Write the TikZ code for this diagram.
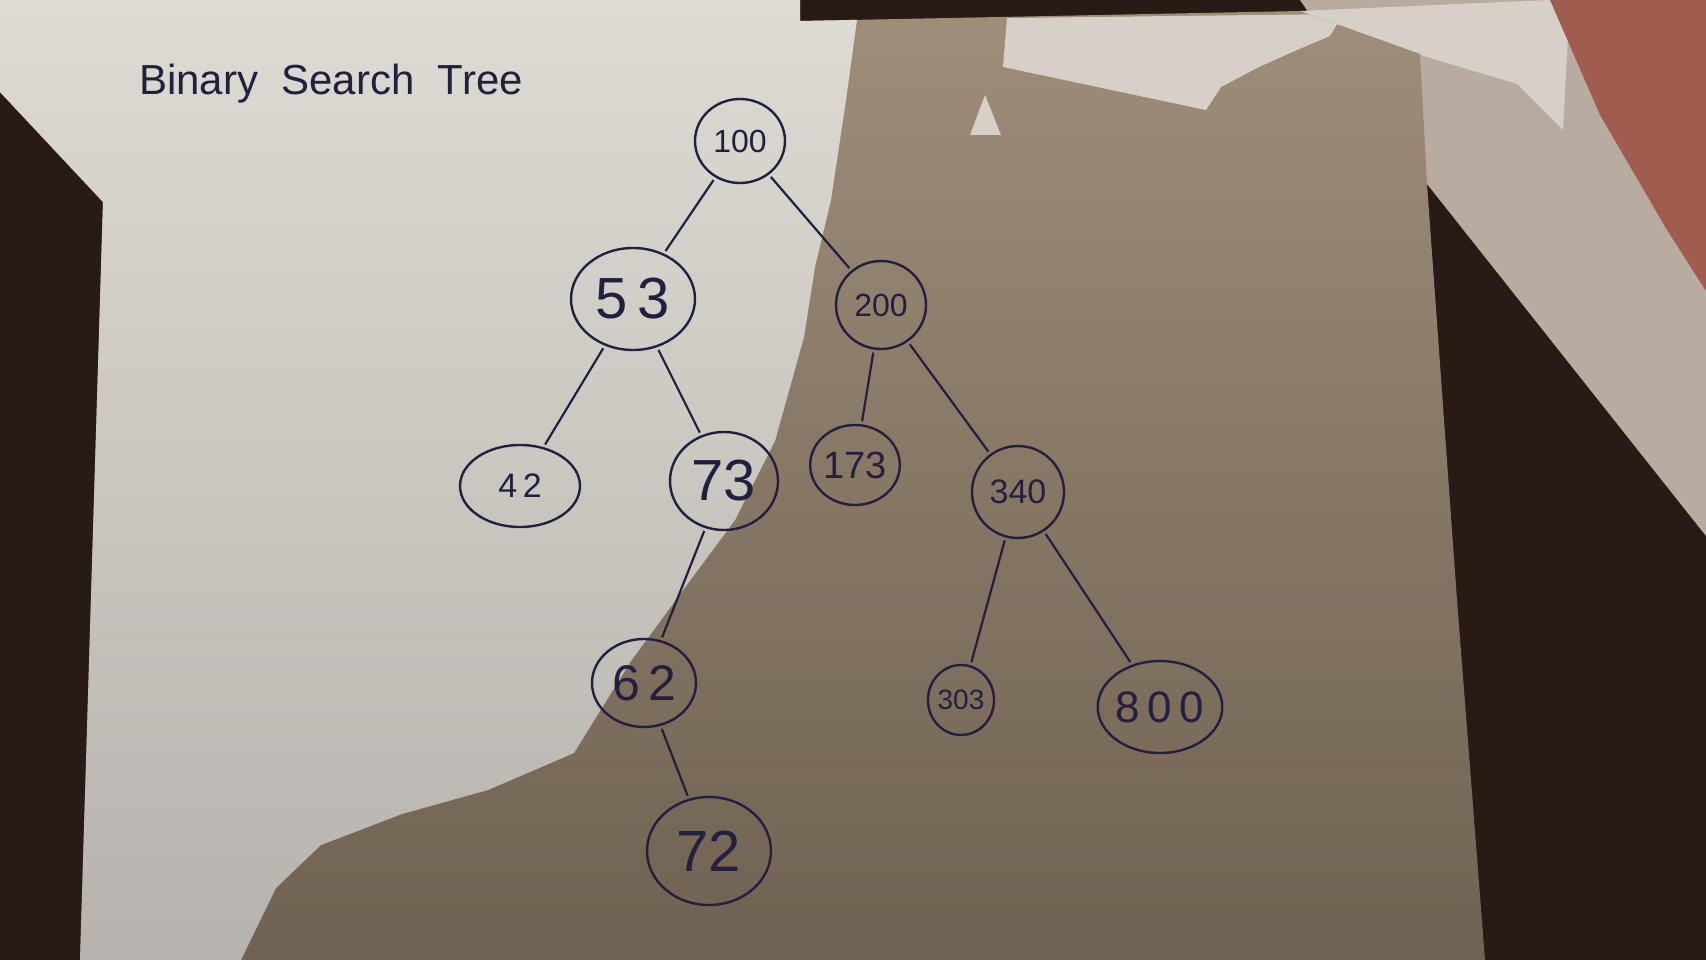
\documentclass[tikz,border=0pt]{standalone}
\usepackage{fontspec}
\setmainfont{Liberation Sans}
\usetikzlibrary{shapes.geometric}
\definecolor{ink}{RGB}{35,31,62}
\definecolor{darkbg}{RGB}{40,27,22}
\definecolor{litA}{RGB}{222,219,212}
\definecolor{litB}{RGB}{182,179,174}
\definecolor{shA}{RGB}{158,142,122}
\definecolor{shB}{RGB}{112,98,82}
\definecolor{sheet}{RGB}{184,172,160}
\definecolor{sheetlit}{RGB}{214,208,200}
\definecolor{bookred}{RGB}{160,92,78}
\tikzset{
  bst/.style={draw=ink, line width=2.4pt, ellipse, inner sep=0pt, text=ink},
  edge/.style={draw=ink, line width=2.2pt, shorten <=3pt, shorten >=3pt},
}
\newcommand{\fs}[1]{\fontsize{#1}{#1}\selectfont}
\begin{document}
\begin{tikzpicture}[x=1pt,y=-1pt]
\useasboundingbox (0,0) rectangle (1706,960);
% background
\fill[darkbg] (0,0) rectangle (1706,960);
% second sheet at right
\fill[sheet] (1300,0) -- (1706,0) -- (1706,536) -- (1427,184) -- cycle;
\fill[sheetlit] (1300,11) -- (1550,0) -- (1570,0) -- (1563,130) -- (1517,84) -- (1417,54) -- (1330,36) -- (1250,65) -- cycle;
\fill[bookred] (1550,0) -- (1706,0) -- (1706,291) -- (1667,230) -- (1600,115) -- cycle;
% main paper (shadowed part)
\def\paper{(0,0) -- (800,0) -- (800,21) -- (1300,11) -- (1420,54) -- (1427,184) -- (1457,600) -- (1485,960) -- (80,960) -- (103,202) -- (0,92) -- cycle}
\shade[top color=shA, bottom color=shB] \paper;
% lit parts
\begin{scope}
\clip \paper;
\shade[top color=litA, bottom color=litB] (0,0) -- (857,0) -- (857,20) -- (846,100) -- (831,200) -- (815,267) -- (804,337) -- (775,441) -- (735,520) -- (689,582) -- (631,661) -- (574,753) -- (488,790) -- (402,814) -- (321,845) -- (276,888) -- (241,960) -- (0,960) -- cycle;
\fill[sheetlit] (1007,18) -- (1343,14) -- (1330,36) -- (1297,50) -- (1259,67) -- (1221,87) -- (1206,110) -- (1003,67) -- cycle;
\fill[sheetlit] (970,135) -- (1001,135) -- (985,95) -- cycle;
\end{scope}
% title
\node[anchor=base west, text=ink, font=\fs{42}, inner sep=0pt] (title) at (139,95) {Binary\ \ Search\ \ Tree};
% nodes
\node[bst, minimum width=90pt, minimum height=84pt, font=\fs{32}] (n100) at (740,141) {100};
\node[bst, minimum width=124pt, minimum height=102pt, font=\fs{58}] (n53) at (633,299) {5\,3};
\node[bst, minimum width=90pt, minimum height=88pt, font=\fs{32}] (n200) at (881,305) {200};
\node[bst, minimum width=120pt, minimum height=82pt, font=\fs{34}] (n42) at (520,486) {4\,2};
\node[bst, minimum width=108pt, minimum height=98pt, font=\fs{58}] (n73) at (724,481) {73};
\node[bst, minimum width=72pt, minimum height=80pt, font=\fs{38}] (n173) at (855,465) {173};
\node[bst, minimum width=92pt, minimum height=92pt, font=\fs{34}] (n340) at (1018,492) {340};
\node[bst, minimum width=104pt, minimum height=88pt, font=\fs{50}] (n62) at (644,683) {6\,2};
\node[bst, minimum width=58pt, minimum height=70pt, font=\fs{28}] (n303) at (961,700) {303};
\node[bst, minimum width=120pt, minimum height=92pt, font=\fs{44}] (n800) at (1160,707) {8\,0\,0};
\node[bst, minimum width=124pt, minimum height=108pt, font=\fs{58}] (n72) at (709,851) {72};
% edges
\draw[edge] (n100) -- (n53);
\draw[edge] (n100) -- (n200);
\draw[edge] (n53) -- (n42);
\draw[edge] (n53) -- (n73);
\draw[edge] (n200) -- (n173);
\draw[edge] (n200) -- (n340);
\draw[edge] (n73) -- (n62);
\draw[edge] (n62) -- (n72);
\draw[edge] (n340) -- (n303);
\draw[edge] (n340) -- (n800);
\end{tikzpicture}
\end{document}
